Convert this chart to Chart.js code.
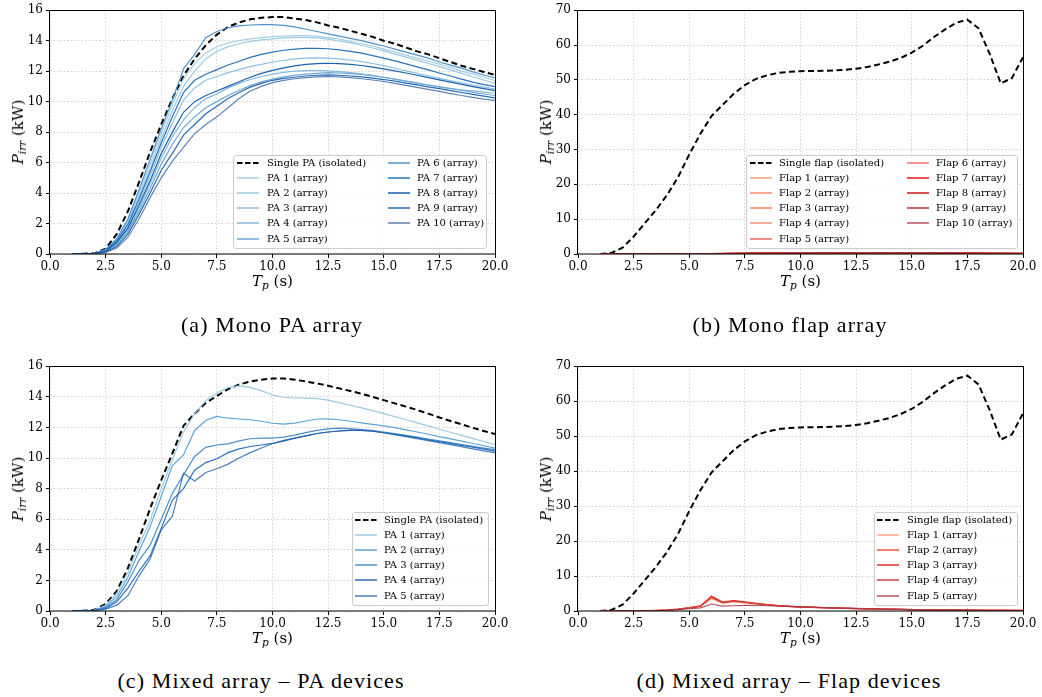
<!DOCTYPE html>
<html>
<head>
<meta charset="utf-8">
<title>Irregular-wave power vs peak period</title>
<script src="https://cdn.jsdelivr.net/npm/chart.js@4.4.1/dist/chart.umd.min.js"></script>
<style>
  body { margin: 0; background: #fff; }
  #page { position: relative; width: 1042px; height: 697px; overflow: hidden; font-family: "DejaVu Serif", serif; color: #000; }
  canvas { position: absolute; }
  .axis-title { position: absolute; font-size: 15px; white-space: nowrap; transform: translate(-50%, -50%); }
  .axis-title.vertical { transform: translate(-50%, -50%) rotate(-90deg); }
  .axis-title sub { font-size: 70%; vertical-align: -0.3em; line-height: 0; }
  .caption { position: absolute; font-family: "Liberation Serif", serif; font-size: 22px; letter-spacing: 1.1px; white-space: nowrap; transform: translate(-50%, -50%); }
  .legend { position: absolute; background: rgba(255, 255, 255, 0.8); border: 1px solid #cccccc; border-radius: 3px; box-sizing: border-box; }
  .legend-text { position: absolute; font-size: 10px; line-height: 12px; white-space: nowrap; }
  .legend svg { position: absolute; }
</style>
</head>
<body>
<div id="page"></div>
<script>
// Peak wave periods Tp (s), shared by every panel.
var tp = [1.0, 1.5, 2.0, 2.5, 3.0, 3.5, 4.0, 4.5, 5.0, 5.5, 6.0, 6.5, 7.0, 7.5, 8.0, 8.5, 9.0, 9.5, 10.0, 10.5,
  11.0, 11.5, 12.0, 12.5, 13.0, 13.5, 14.0, 14.5, 15.0, 15.5, 16.0, 16.5, 17.0, 17.5, 18.0, 18.5, 19.0, 19.5, 20.0];

// Tick values of the axes.
var xTicks = [0, 2.5, 5, 7.5, 10, 12.5, 15, 17.5, 20];
var yTicksPA = [0, 2, 4, 6, 8, 10, 12, 14, 16];
var yTicksFlap = [0, 10, 20, 30, 40, 50, 60, 70];

// (a) Mono PA array, P_irr in kW.
var singlePA_a = [0, 0.01, 0.05, 0.35, 1.3, 2.8, 4.7, 6.7, 8.5, 10.2, 11.7, 12.8, 13.7, 14.4, 14.9, 15.2, 15.4, 15.5, 15.55, 15.55,
  15.45, 15.35, 15.2, 15.0, 14.85, 14.65, 14.45, 14.25, 14.0, 13.8, 13.55, 13.3, 13.1, 12.85, 12.6, 12.35, 12.15, 11.95, 11.75];
var pa1_a = [0, 0.01, 0.04, 0.28, 0.95, 2.2, 4.0, 5.9, 7.9, 9.8, 11.5, 12.5, 13.2, 13.6, 13.85, 14.0, 14.12, 14.2, 14.26, 14.3,
  14.33, 14.33, 14.3, 14.2, 14.1, 13.95, 13.8, 13.65, 13.45, 13.25, 13.05, 12.85, 12.65, 12.45, 12.25, 12.0, 11.8, 11.6, 11.38];
var pa2_a = [0, 0.01, 0.04, 0.25, 0.9, 2.1, 3.8, 5.6, 7.6, 9.4, 11.0, 12.0, 12.8, 13.3, 13.6, 13.8, 13.95, 14.05, 14.12, 14.18,
  14.22, 14.22, 14.18, 14.1, 13.98, 13.85, 13.7, 13.52, 13.33, 13.12, 12.92, 12.72, 12.5, 12.3, 12.08, 11.85, 11.63, 11.42, 11.2];
var pa3_a = [0, 0.01, 0.03, 0.2, 0.8, 1.85, 3.4, 5.1, 7.0, 8.6, 10.1, 10.9, 11.4, 11.65, 11.9, 12.1, 12.3, 12.45, 12.6, 12.7,
  12.8, 12.85, 12.87, 12.85, 12.8, 12.72, 12.62, 12.5, 12.36, 12.19, 12.02, 11.85, 11.69, 11.53, 11.38, 11.23, 11.08, 10.95, 10.83];
var pa4_a = [0, 0.01, 0.03, 0.17, 0.7, 1.6, 3.0, 4.6, 6.3, 7.7, 8.8, 9.6, 10.2, 10.5, 10.9, 11.2, 11.45, 11.65, 11.8, 11.92,
  12.0, 12.04, 12.04, 12.02, 11.97, 11.9, 11.82, 11.72, 11.6, 11.47, 11.34, 11.21, 11.09, 10.97, 10.86, 10.78, 10.7, 10.62, 10.55];
var pa5_a = [0, 0.01, 0.02, 0.15, 0.6, 1.45, 2.8, 4.3, 5.9, 7.2, 8.3, 9.0, 9.6, 10.0, 10.4, 10.75, 11.05, 11.3, 11.48, 11.62,
  11.72, 11.8, 11.86, 11.9, 11.88, 11.84, 11.78, 11.7, 11.6, 11.48, 11.35, 11.22, 11.09, 10.97, 10.85, 10.73, 10.61, 10.5, 10.4];
var pa6_a = [0, 0.01, 0.04, 0.3, 1.0, 2.3, 4.2, 6.2, 8.2, 10.1, 12.15, 13.1, 14.2, 14.6, 14.85, 14.97, 15.03, 15.05, 15.05, 15.0,
  14.9, 14.75, 14.6, 14.45, 14.3, 14.15, 14.0, 13.82, 13.65, 13.45, 13.25, 13.05, 12.85, 12.6, 12.4, 12.2, 11.95, 11.75, 11.55];
var pa7_a = [0, 0.01, 0.03, 0.22, 0.85, 1.95, 3.6, 5.4, 7.3, 9.0, 10.6, 11.4, 11.8, 12.1, 12.4, 12.65, 12.9, 13.1, 13.25, 13.37,
  13.45, 13.5, 13.5, 13.47, 13.4, 13.3, 13.18, 13.02, 12.85, 12.67, 12.48, 12.28, 12.08, 11.88, 11.68, 11.48, 11.28, 11.12, 10.98];
var pa8_a = [0, 0.01, 0.03, 0.18, 0.75, 1.7, 3.2, 4.8, 6.6, 8.0, 9.3, 10.0, 10.4, 10.7, 11.0, 11.3, 11.6, 11.85, 12.05, 12.22,
  12.35, 12.45, 12.5, 12.52, 12.5, 12.45, 12.37, 12.27, 12.15, 12.02, 11.88, 11.73, 11.58, 11.43, 11.28, 11.13, 10.99, 10.85, 10.72];
var pa9_a = [0, 0.01, 0.02, 0.13, 0.5, 1.3, 2.6, 4.0, 5.5, 6.6, 7.8, 8.5, 9.2, 9.7, 10.2, 10.6, 10.95, 11.2, 11.4, 11.52,
  11.6, 11.68, 11.73, 11.75, 11.73, 11.68, 11.62, 11.54, 11.45, 11.34, 11.22, 11.1, 10.97, 10.85, 10.72, 10.6, 10.48, 10.36, 10.25];
var pa10_a = [0, 0.01, 0.02, 0.1, 0.4, 1.1, 2.3, 3.7, 5.0, 6.1, 7.0, 7.9, 8.5, 9.0, 9.6, 10.2, 10.7, 11.0, 11.25, 11.4,
  11.5, 11.58, 11.63, 11.65, 11.62, 11.57, 11.5, 11.42, 11.32, 11.2, 11.07, 10.94, 10.8, 10.67, 10.53, 10.4, 10.28, 10.17, 10.08];

// (b) and (d) isolated flap (same curve in both panels).
var singleFlap = [0, 0.3, 1.8, 5.0, 8.8, 12.6, 16.9, 22.1, 28.6, 34.5, 39.6, 42.8, 46.0, 48.5, 50.3, 51.3, 52.0, 52.3, 52.5, 52.55,
  52.6, 52.7, 52.9, 53.2, 53.7, 54.4, 55.2, 56.3, 57.8, 59.8, 62.3, 64.5, 66.4, 67.3, 64.8, 57.5, 49.0, 50.5, 56.5];

// (b) Mono flap array: every flap stays close to zero.
var flap1_b = [0, 0, 0, 0.01, 0.02, 0.03, 0.05, 0.07, 0.09, 0.11, 0.13, 0.15, 0.17, 0.19, 0.21, 0.23, 0.25, 0.26, 0.27, 0.28,
  0.29, 0.3, 0.31, 0.32, 0.33, 0.34, 0.34, 0.34, 0.33, 0.32, 0.3, 0.28, 0.26, 0.24, 0.22, 0.2, 0.18, 0.17, 0.16];
var flap2_b = [0, 0, 0, 0.01, 0.02, 0.03, 0.04, 0.06, 0.08, 0.1, 0.12, 0.14, 0.16, 0.18, 0.2, 0.22, 0.24, 0.25, 0.26, 0.27,
  0.28, 0.29, 0.3, 0.31, 0.32, 0.33, 0.33, 0.33, 0.32, 0.31, 0.29, 0.27, 0.25, 0.23, 0.21, 0.19, 0.17, 0.16, 0.15];
var flap3_b = [0, 0, 0, 0.01, 0.01, 0.02, 0.04, 0.05, 0.07, 0.09, 0.11, 0.13, 0.15, 0.17, 0.19, 0.2, 0.22, 0.23, 0.24, 0.25,
  0.26, 0.27, 0.28, 0.29, 0.3, 0.31, 0.31, 0.31, 0.3, 0.29, 0.28, 0.26, 0.24, 0.22, 0.2, 0.18, 0.16, 0.15, 0.14];
var flap4_b = [0, 0, 0, 0.01, 0.01, 0.02, 0.03, 0.05, 0.07, 0.08, 0.1, 0.12, 0.14, 0.16, 0.18, 0.19, 0.21, 0.22, 0.23, 0.24,
  0.25, 0.26, 0.27, 0.28, 0.29, 0.3, 0.3, 0.3, 0.29, 0.28, 0.27, 0.25, 0.23, 0.21, 0.19, 0.17, 0.16, 0.15, 0.14];
var flap5_b = [0, 0, 0, 0.01, 0.01, 0.02, 0.03, 0.04, 0.06, 0.08, 0.1, 0.11, 0.13, 0.15, 0.17, 0.18, 0.2, 0.21, 0.22, 0.23,
  0.24, 0.25, 0.26, 0.27, 0.28, 0.29, 0.29, 0.29, 0.28, 0.27, 0.26, 0.24, 0.22, 0.2, 0.18, 0.17, 0.15, 0.14, 0.13];
var flap6_b = [0, 0, 0, 0.01, 0.02, 0.03, 0.05, 0.07, 0.09, 0.11, 0.14, 0.16, 0.18, 0.2, 0.22, 0.24, 0.26, 0.27, 0.28, 0.29,
  0.3, 0.31, 0.32, 0.33, 0.34, 0.35, 0.35, 0.35, 0.34, 0.33, 0.31, 0.29, 0.27, 0.25, 0.23, 0.21, 0.19, 0.18, 0.17];
var flap7_b = [0, 0, 0, 0.01, 0.02, 0.04, 0.06, 0.08, 0.1, 0.12, 0.15, 0.17, 0.19, 0.21, 0.23, 0.25, 0.27, 0.28, 0.29, 0.3,
  0.31, 0.32, 0.33, 0.34, 0.35, 0.36, 0.36, 0.36, 0.35, 0.34, 0.32, 0.3, 0.28, 0.26, 0.24, 0.22, 0.2, 0.19, 0.18];
var flap8_b = [0, 0, 0, 0.01, 0.02, 0.03, 0.05, 0.07, 0.09, 0.11, 0.13, 0.15, 0.17, 0.19, 0.21, 0.23, 0.25, 0.26, 0.27, 0.28,
  0.29, 0.3, 0.31, 0.32, 0.33, 0.33, 0.33, 0.33, 0.32, 0.31, 0.29, 0.27, 0.25, 0.23, 0.21, 0.19, 0.18, 0.17, 0.16];
var flap9_b = [0, 0, 0, 0.01, 0.01, 0.03, 0.04, 0.06, 0.08, 0.1, 0.12, 0.14, 0.16, 0.18, 0.19, 0.21, 0.23, 0.24, 0.25, 0.26,
  0.27, 0.28, 0.29, 0.3, 0.31, 0.32, 0.32, 0.32, 0.31, 0.3, 0.28, 0.26, 0.24, 0.22, 0.2, 0.18, 0.17, 0.16, 0.15];
var flap10_b = [0, 0, 0, 0.01, 0.01, 0.02, 0.04, 0.05, 0.07, 0.09, 0.11, 0.13, 0.15, 0.17, 0.18, 0.2, 0.22, 0.23, 0.24, 0.25,
  0.26, 0.27, 0.28, 0.29, 0.3, 0.3, 0.3, 0.3, 0.29, 0.28, 0.27, 0.25, 0.23, 0.21, 0.19, 0.17, 0.16, 0.15, 0.14];

// (c) Mixed array, PA devices.
var singlePA_c = [0, 0.01, 0.08, 0.45, 1.3, 2.8, 4.7, 6.7, 8.55, 10.3, 12.1, 12.9, 13.6, 14.05, 14.5, 14.8, 15.0, 15.12, 15.19, 15.2,
  15.12, 15.0, 14.87, 14.72, 14.55, 14.38, 14.2, 14.0, 13.78, 13.57, 13.36, 13.14, 12.9, 12.65, 12.42, 12.2, 11.97, 11.76, 11.56];
var pa1_c = [0, 0.01, 0.06, 0.38, 1.15, 2.5, 4.3, 5.9, 8.0, 9.9, 11.7, 12.9, 13.75, 14.25, 14.6, 14.72, 14.62, 14.4, 14.12, 13.97,
  13.92, 13.91, 13.88, 13.78, 13.62, 13.45, 13.28, 13.1, 12.9, 12.7, 12.5, 12.3, 12.1, 11.88, 11.68, 11.48, 11.28, 11.08, 10.88];
var pa2_c = [0, 0.01, 0.05, 0.3, 0.95, 2.2, 3.9, 5.5, 7.5, 9.5, 10.2, 11.8, 12.45, 12.72, 12.6, 12.55, 12.5, 12.4, 12.27, 12.22,
  12.28, 12.42, 12.55, 12.56, 12.5, 12.4, 12.3, 12.2, 12.1, 11.98, 11.84, 11.7, 11.55, 11.4, 11.25, 11.1, 10.95, 10.8, 10.65];
var pa3_c = [0, 0.01, 0.04, 0.22, 0.75, 1.9, 3.3, 4.3, 6.0, 7.7, 8.9, 10.1, 10.7, 10.85, 10.92, 11.12, 11.26, 11.3, 11.3, 11.36,
  11.5, 11.66, 11.8, 11.9, 11.95, 11.92, 11.86, 11.8, 11.7, 11.6, 11.48, 11.36, 11.24, 11.12, 11.0, 10.88, 10.76, 10.65, 10.55];
var pa4_c = [0, 0.01, 0.03, 0.17, 0.6, 1.5, 2.6, 3.6, 5.4, 7.25, 8.0, 9.2, 9.7, 9.95, 10.35, 10.6, 10.75, 10.85, 10.95, 11.1,
  11.3, 11.45, 11.6, 11.7, 11.78, 11.82, 11.8, 11.75, 11.65, 11.55, 11.43, 11.31, 11.19, 11.07, 10.95, 10.83, 10.71, 10.58, 10.45];
var pa5_c = [0, 0.01, 0.02, 0.12, 0.38, 1.0, 2.3, 3.4, 5.3, 6.2, 9.0, 8.5, 9.05, 9.3, 9.6, 10.0, 10.35, 10.65, 10.95, 11.15,
  11.3, 11.45, 11.6, 11.7, 11.75, 11.8, 11.8, 11.75, 11.65, 11.53, 11.4, 11.27, 11.14, 11.0, 10.87, 10.74, 10.6, 10.47, 10.35];

// (d) Mixed array, flap devices.
var flap1_d = [0, 0, 0.01, 0.03, 0.08, 0.15, 0.28, 0.5, 0.85, 1.3, 3.5, 2.2, 2.6, 2.3, 2.0, 1.7, 1.45, 1.25, 1.1, 1.0,
  0.9, 0.82, 0.74, 0.66, 0.6, 0.54, 0.48, 0.43, 0.38, 0.34, 0.3, 0.27, 0.24, 0.22, 0.2, 0.18, 0.17, 0.16, 0.15];
var flap2_d = [0, 0, 0.01, 0.03, 0.08, 0.16, 0.3, 0.55, 0.95, 1.45, 4.3, 2.6, 3.0, 2.6, 2.2, 1.85, 1.55, 1.35, 1.2, 1.08,
  0.98, 0.88, 0.8, 0.72, 0.65, 0.58, 0.52, 0.46, 0.41, 0.37, 0.33, 0.3, 0.27, 0.25, 0.23, 0.21, 0.19, 0.18, 0.17];
var flap3_d = [0, 0, 0.01, 0.03, 0.07, 0.15, 0.28, 0.52, 0.9, 1.4, 4.1, 2.5, 2.9, 2.5, 2.15, 1.8, 1.52, 1.32, 1.17, 1.05,
  0.95, 0.86, 0.78, 0.7, 0.63, 0.57, 0.51, 0.45, 0.4, 0.36, 0.32, 0.29, 0.26, 0.24, 0.22, 0.2, 0.18, 0.17, 0.16];
var flap4_d = [0, 0, 0.01, 0.02, 0.07, 0.14, 0.26, 0.48, 0.85, 1.35, 3.9, 2.4, 2.8, 2.45, 2.1, 1.78, 1.5, 1.3, 1.15, 1.03,
  0.93, 0.84, 0.76, 0.68, 0.61, 0.55, 0.49, 0.44, 0.39, 0.35, 0.31, 0.28, 0.25, 0.23, 0.21, 0.19, 0.17, 0.16, 0.15];
var flap5_d = [0, 0, 0.01, 0.02, 0.06, 0.12, 0.22, 0.4, 0.65, 0.9, 2.0, 1.4, 1.5, 1.6, 1.6, 1.5, 1.4, 1.3, 1.2, 1.1,
  1.0, 0.9, 0.82, 0.74, 0.66, 0.58, 0.5, 0.44, 0.38, 0.33, 0.29, 0.26, 0.23, 0.21, 0.19, 0.17, 0.16, 0.15, 0.14];

// Line colours.
var bluesA = ["#a6cfe8", "#9cc9e6", "#90c1e2", "#84b8dd", "#6fa8d5", "#4f93cc", "#2b74bb", "#1b62aa", "#2a6cb3", "rgba(40,90,160,0.75)"];
var redsB = ["#fc9879", "#fb8d6e", "#fa8465", "#f7907c", "#ee6a5e", "#ef7070", "#e0191d", "#c81a1f", "#cc3035", "rgba(175,55,65,0.85)"];
var bluesC = ["#9ecae1", "#5ea4d8", "#4a8fcc", "#2e73bd", "rgba(30,95,170,0.8)"];
var redsD = ["#fca487", "#f4553d", "#e32f27", "#d33f42", "rgba(165,55,65,0.85)"];

var page = document.getElementById("page");

// Series list for each panel: the first entry is the dashed isolated device.
var seriesA = [{ label: "Single PA (isolated)", values: singlePA_a, color: "#000", dashed: true }];
[pa1_a, pa2_a, pa3_a, pa4_a, pa5_a, pa6_a, pa7_a, pa8_a, pa9_a, pa10_a].forEach(function (v, i) {
  seriesA.push({ label: "PA " + (i + 1) + " (array)", values: v, color: bluesA[i] });
});
var seriesB = [{ label: "Single flap (isolated)", values: singleFlap, color: "#000", dashed: true }];
[flap1_b, flap2_b, flap3_b, flap4_b, flap5_b, flap6_b, flap7_b, flap8_b, flap9_b, flap10_b].forEach(function (v, i) {
  seriesB.push({ label: "Flap " + (i + 1) + " (array)", values: v, color: redsB[i] });
});
var seriesC = [{ label: "Single PA (isolated)", values: singlePA_c, color: "#000", dashed: true }];
[pa1_c, pa2_c, pa3_c, pa4_c, pa5_c].forEach(function (v, i) {
  seriesC.push({ label: "PA " + (i + 1) + " (array)", values: v, color: bluesC[i] });
});
var seriesD = [{ label: "Single flap (isolated)", values: singleFlap, color: "#000", dashed: true }];
[flap1_d, flap2_d, flap3_d, flap4_d, flap5_d].forEach(function (v, i) {
  seriesD.push({ label: "Flap " + (i + 1) + " (array)", values: v, color: redsD[i] });
});

// Panel placement on the page (canvas box and plot area).
var panels = [
  { id: "a", left: 0, top: 0, width: 520, height: 300, plotLeft: 50, plotRight: 495, plotTop: 10, plotBottom: 254,
    yTicks: yTicksPA, series: seriesA, caption: "(a) Mono PA array", capX: 272, capY: 325,
    legend: { left: 233, top: 155, width: 254, height: 94, cols: [[237, 267], [388, 417]], rowY: 163, perCol: 6 } },
  { id: "b", left: 521, top: 0, width: 521, height: 300, plotLeft: 578, plotRight: 1023, plotTop: 10, plotBottom: 254,
    yTicks: yTicksFlap, series: seriesB, caption: "(b) Mono flap array", capX: 790, capY: 325,
    legend: { left: 746, top: 155, width: 272, height: 94, cols: [[750, 779], [907, 936]], rowY: 163, perCol: 6 } },
  { id: "c", left: 0, top: 356, width: 520, height: 300, plotLeft: 50, plotRight: 495, plotTop: 366, plotBottom: 611,
    yTicks: yTicksPA, series: seriesC, caption: "(c) Mixed array \u2013 PA devices", capX: 261, capY: 681,
    legend: { left: 352, top: 512, width: 137, height: 94, cols: [[355, 384]], rowY: 520, perCol: 6 } },
  { id: "d", left: 521, top: 356, width: 521, height: 300, plotLeft: 578, plotRight: 1023, plotTop: 366, plotBottom: 611,
    yTicks: yTicksFlap, series: seriesD, caption: "(d) Mixed array \u2013 Flap devices", capX: 789, capY: 681,
    legend: { left: 874, top: 512, width: 144, height: 94, cols: [[877, 907]], rowY: 520, perCol: 6 } }
];

// Draws the full black box around the plot area (matplotlib spines).
var framePlugin = {
  id: "frame",
  afterDatasetsDraw: function (chart) {
    var a = chart.chartArea;
    var ctx = chart.ctx;
    ctx.save();
    ctx.strokeStyle = "#000";
    ctx.lineWidth = 1;
    ctx.strokeRect(Math.round(a.left) - 0.5, Math.round(a.top) + 0.5, Math.round(a.right) - Math.round(a.left) + 1, Math.round(a.bottom) - Math.round(a.top) - 0.5);
    ctx.restore();
  }
};

function toPoints(values) {
  return values.map(function (v, i) { return { x: tp[i], y: v }; });
}

// Later series are drawn on top, as in matplotlib.
function makeDatasets(series) {
  return series.map(function (s, i) {
    return {
      label: s.label,
      data: toPoints(s.values),
      borderColor: s.color,
      borderWidth: s.dashed ? 2 : 1.2,
      borderDash: s.dashed ? [6, 3.5] : [],
      pointRadius: 0,
      tension: 0,
      fill: false,
      order: -i
    };
  });
}

function makeChart(p) {
  var canvas = document.createElement("canvas");
  canvas.width = p.width;
  canvas.height = p.height;
  canvas.style.left = p.left + "px";
  canvas.style.top = p.top + "px";
  canvas.style.width = p.width + "px";
  canvas.style.height = p.height + "px";
  page.appendChild(canvas);

  var tickFont = { family: "DejaVu Serif", size: 12 };
  var gridOpts = { color: "#c8c8c8", lineWidth: 0.8, tickColor: "#000", tickLength: 4, tickWidth: 1, tickBorderDash: [1, 0] };
  var yMax = p.yTicks[p.yTicks.length - 1];

  return new Chart(canvas, {
    type: "line",
    data: { datasets: makeDatasets(p.series) },
    options: {
      responsive: false,
      animation: false,
      events: [],
      layout: { padding: { left: 0, top: p.plotTop - p.top, right: p.left + p.width - p.plotRight, bottom: 0 } },
      plugins: { legend: { display: false }, tooltip: { enabled: false } },
      scales: {
        x: {
          type: "linear", min: 0, max: 20,
          afterFit: function (scale) { scale.height = p.top + p.height - p.plotBottom; },
          afterBuildTicks: function (scale) { scale.ticks = xTicks.map(function (v) { return { value: v }; }); },
          ticks: { color: "#000", font: tickFont, padding: 2, maxRotation: 0, autoSkip: false,
            callback: function (v) { return Number(v).toFixed(1); } },
          grid: gridOpts,
          border: { display: false, dash: [1.5, 2] }
        },
        y: {
          type: "linear", min: 0, max: yMax,
          afterFit: function (scale) { scale.width = p.plotLeft - p.left; },
          afterBuildTicks: function (scale) { scale.ticks = p.yTicks.map(function (v) { return { value: v }; }); },
          ticks: { color: "#000", font: tickFont, padding: 3, autoSkip: false },
          grid: gridOpts,
          border: { display: false, dash: [1.5, 2] }
        }
      }
    },
    plugins: [framePlugin]
  });
}

// Axis titles and the sub-figure caption, as HTML text.
function addTexts(p) {
  var xt = document.createElement("div");
  xt.className = "axis-title";
  xt.innerHTML = "<i>T</i><sub><i>p</i></sub> (s)";
  xt.style.left = (p.plotLeft + p.plotRight) / 2 + "px";
  xt.style.top = p.plotBottom + 27 + "px";
  page.appendChild(xt);

  var yt = document.createElement("div");
  yt.className = "axis-title vertical";
  yt.innerHTML = "<i>P</i><sub><i>irr</i></sub> (kW)";
  yt.style.left = p.plotLeft - 32 + "px";
  yt.style.top = (p.plotTop + p.plotBottom) / 2 + "px";
  page.appendChild(yt);

  var cap = document.createElement("div");
  cap.className = "caption";
  cap.textContent = p.caption;
  cap.style.left = p.capX + "px";
  cap.style.top = p.capY + "px";
  page.appendChild(cap);
}

// Legend box inside the plot, filled column by column like matplotlib.
function addLegend(p) {
  var L = p.legend;
  var box = document.createElement("div");
  box.className = "legend";
  box.style.left = L.left + "px";
  box.style.top = L.top + "px";
  box.style.width = L.width + "px";
  box.style.height = L.height + "px";
  page.appendChild(box);

  p.series.forEach(function (s, i) {
    var col = L.cols[Math.floor(i / L.perCol)];
    var y = L.rowY + (i % L.perCol) * 15.1 - L.top - 1;
    var svgNS = "http://www.w3.org/2000/svg";
    var svg = document.createElementNS(svgNS, "svg");
    svg.setAttribute("width", "22");
    svg.setAttribute("height", "6");
    svg.style.left = col[0] - L.left - 1 + "px";
    svg.style.top = y - 3 + "px";
    var line = document.createElementNS(svgNS, "line");
    line.setAttribute("x1", "0");
    line.setAttribute("x2", "22");
    line.setAttribute("y1", "3");
    line.setAttribute("y2", "3");
    line.setAttribute("stroke", s.color);
    line.setAttribute("stroke-width", s.dashed ? "2" : "1.5");
    if (s.dashed) line.setAttribute("stroke-dasharray", "5.5,2.5");
    svg.appendChild(line);
    box.appendChild(svg);

    var t = document.createElement("div");
    t.className = "legend-text";
    t.textContent = s.label;
    t.style.left = col[1] - L.left - 1 + "px";
    t.style.top = y - 6 + "px";
    box.appendChild(t);
  });
}

panels.forEach(function (p) {
  makeChart(p);
  addTexts(p);
  addLegend(p);
});
</script>
</body>
</html>
